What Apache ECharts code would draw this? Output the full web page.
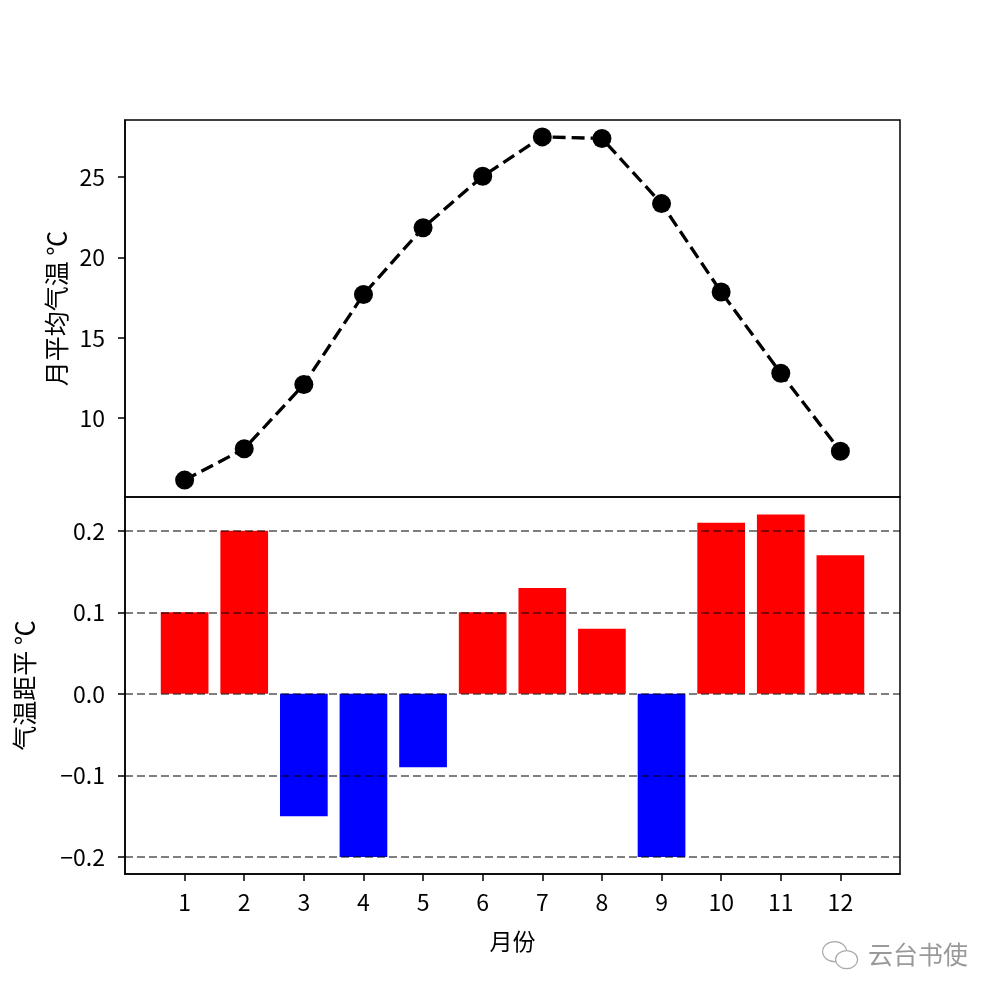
<!DOCTYPE html>
<html lang="zh">

<head>
    <meta charset="UTF-8">
    <title>月平均气温与气温距平</title>
    <script src="https://cdn.jsdelivr.net/npm/echarts@6/dist/echarts.min.js"></script>
    <style>
        * {
            margin: 0;
            padding: 0
        }

        html,
        body {
            width: 100%;
            height: 100%;
            background: #fff;
        }

        #main {
            width: 1000px;
            height: 1000px;
        }
    </style>
</head>

<body>
    <div id="main"></div>
    <script type="text/javascript">
        var months = [1, 2, 3, 4, 5, 6, 7, 8, 9, 10, 11, 12];
        var meanTemp = [6.15, 8.1, 12.1, 17.7, 21.85, 25.05, 27.5, 27.4, 23.35, 17.85, 12.8, 7.95];
        var anomaly = [0.1, 0.2, -0.15, -0.2, -0.09, 0.1, 0.13, 0.08, -0.2, 0.21, 0.22, 0.17];
        var tempTicks = [10, 15, 20, 25];
        var anomalyTicks = [-0.2, -0.1, 0.0, 0.1, 0.2];

        var FONT = '"Noto Sans CJK SC", "DejaVu Sans", sans-serif';
        var myChart = echarts.init(document.getElementById('main'));

        var lineData = months.map(function (m, i) { return [m, meanTemp[i]]; });
        var barData = months.map(function (m, i) { return [m, anomaly[i]]; });

        // 坐标轴公共样式
        var axisLineStyle = { show: true, onZero: false, lineStyle: { color: '#000', width: 1.5 } };
        var tickStyle = { show: true, inside: false, length: 7, lineStyle: { color: '#000', width: 1.5 } };
        var labelStyle = { color: '#000', fontSize: 23, fontFamily: FONT };
        var nameStyle = { color: '#000', fontSize: 25, fontFamily: FONT };

        function fmtAnomaly(v) {
            var s = Math.abs(v).toFixed(1);
            return v < -1e-9 ? '\u2212' + s : s;
        }

        var option = {
            backgroundColor: '#fff',
            animation: false,
            grid: [
                { left: 125, top: 120, width: 775, height: 377, show: true, borderColor: '#000', borderWidth: 1.5, backgroundColor: 'transparent' },
                { left: 125, top: 497, width: 775, height: 377, show: true, borderColor: '#000', borderWidth: 1.5, backgroundColor: 'transparent' }
            ],
            xAxis: [
                {
                    gridIndex: 0, type: 'value', min: 0, max: 13,
                    axisLine: { show: false }, axisTick: { show: false },
                    axisLabel: { show: false }, splitLine: { show: false }
                },
                {
                    gridIndex: 1, type: 'value', min: 0, max: 13,
                    axisLine: axisLineStyle,
                    axisTick: Object.assign({ customValues: months }, tickStyle),
                    axisLabel: Object.assign({ customValues: months, margin: 17 }, labelStyle),
                    splitLine: { show: false },
                    name: '月份', nameLocation: 'middle', nameGap: 56,
                    nameTextStyle: { color: '#000', fontSize: 23, fontFamily: FONT }
                }
            ],
            yAxis: [
                {
                    gridIndex: 0, type: 'value', min: 5.1, max: 28.55,
                    axisLine: axisLineStyle,
                    axisTick: Object.assign({ customValues: tempTicks }, tickStyle),
                    axisLabel: Object.assign({ customValues: tempTicks, margin: 20 }, labelStyle),
                    splitLine: { show: false },
                    name: '月平均气温 ℃', nameLocation: 'middle', nameRotate: 90, nameGap: 55,
                    nameTextStyle: nameStyle
                },
                {
                    gridIndex: 1, type: 'value', min: -0.221, max: 0.2415,
                    axisLine: axisLineStyle,
                    axisTick: Object.assign({ customValues: anomalyTicks }, tickStyle),
                    axisLabel: Object.assign({ customValues: anomalyTicks, margin: 20, formatter: fmtAnomaly }, labelStyle),
                    splitLine: { show: false },
                    name: '气温距平 ℃', nameLocation: 'middle', nameRotate: 90, nameGap: 88,
                    nameTextStyle: nameStyle
                }
            ],
            series: [
                {
                    name: '月平均气温',
                    type: 'line',
                    xAxisIndex: 0, yAxisIndex: 0,
                    data: lineData,
                    symbol: 'circle', symbolSize: 19,
                    itemStyle: { color: '#000' },
                    lineStyle: { color: '#000', width: 3.3, type: [13, 6] },
                    z: 3
                },
                {
                    name: '气温距平',
                    type: 'bar',
                    xAxisIndex: 1, yAxisIndex: 1,
                    data: barData,
                    barWidth: 47.7,
                    itemStyle: {
                        color: function (p) { return p.value[1] >= 0 ? '#ff0000' : '#0000ff'; }
                    },
                    markLine: {
                        silent: true,
                        symbol: ['none', 'none'],
                        label: { show: false },
                        lineStyle: { color: 'rgba(0,0,0,0.5)', width: 1.8, type: [8, 4] },
                        data: anomalyTicks.map(function (v) { return { yAxis: v }; }),
                        z: 5
                    }
                }
            ],
            graphic: [
                {
                    type: 'group', left: 822, top: 941,
                    children: [
                        { type: 'ellipse', shape: { cx: 13, cy: 11, rx: 12, ry: 10 }, style: { fill: '#fff', stroke: '#aaa', lineWidth: 1.2 } },
                        { type: 'ellipse', shape: { cx: 25, cy: 19, rx: 11, ry: 9 }, style: { fill: '#fff', stroke: '#aaa', lineWidth: 1.2 } }
                    ]
                },
                {
                    type: 'text', left: 868, top: 942,
                    style: { text: '云台书使', fill: '#999', fontSize: 25, fontFamily: FONT }
                }
            ]
        };

        myChart.setOption(option);
    </script>
</body>

</html>
